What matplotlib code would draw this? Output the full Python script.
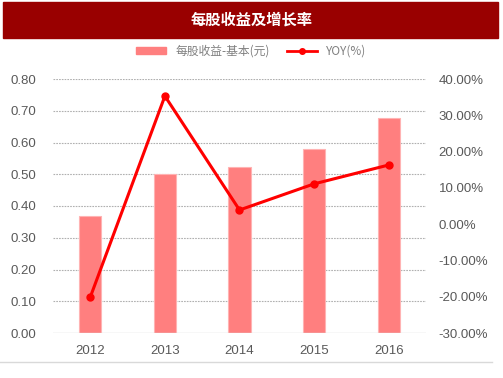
import matplotlib.pyplot as plt
from matplotlib.lines import Line2D
from matplotlib.patches import Rectangle, Patch

plt.rcParams['font.family'] = ['Liberation Sans', 'Noto Sans CJK SC', 'DejaVu Sans']

years = ["2012", "2013", "2014", "2015", "2016"]
eps = [0.37, 0.50, 0.523, 0.58, 0.677]
yoy = [-20.1, 35.3, 3.9, 11.1, 16.3]

left_ticks = [0.0, 0.1, 0.2, 0.3, 0.4, 0.5, 0.6, 0.7, 0.8]
right_ticks = [-30, -20, -10, 0, 10, 20, 30, 40]

cjk = ['Noto Sans CJK SC', 'DejaVu Sans']

fig = plt.figure(figsize=(5.03, 3.78), dpi=100)

# title bar
fig.patches.append(Rectangle((3 / 503, 1 - 38 / 378), 495 / 503, 36 / 378,
                             transform=fig.transFigure, color="#990000", zorder=0))
fig.text(0.5, 1 - 20 / 378, "每股收益及增长率", color="white", fontsize=11,
         fontweight="bold", ha="center", va="center", family=cjk)
# bottom frame line
fig.add_artist(Line2D([0, 492 / 503], [1 - 362 / 378] * 2, color="#d9d9d9", lw=1))

ax = fig.add_axes([53 / 503, 1 - 333 / 378, 373 / 503, 254 / 378])
x = range(len(years))
ax.bar(x, eps, width=0.3, color="#ff7f7f", edgecolor="#ffb3b3", lw=0.8, zorder=2)
ax.set_xlim(-0.5, 4.5)
ax.set_ylim(0, 0.8)
ax.set_yticks(left_ticks)
ax.set_yticklabels([f"{v:.2f}" for v in left_ticks])
ax.set_xticks(list(x))
ax.set_xticklabels(years)
for v in left_ticks[1:]:
    ax.axhline(v, color="#b0b0b0", lw=0.8, ls=(0, (1.5, 1)), zorder=1)
ax.axhline(0, color="#d9d9d9", lw=1, zorder=3)
for s in ax.spines.values():
    s.set_visible(False)
ax.tick_params(length=0, colors="#595959", labelsize=9.5)
ax.tick_params(axis="y", pad=12)
ax.tick_params(axis="x", pad=9)

ax2 = ax.twinx()
ax2.plot(list(x), yoy, color="#ff0000", lw=2.2, marker="o", ms=5, zorder=4)
ax2.set_ylim(-30, 40)
ax2.set_yticks(right_ticks)
ax2.set_yticklabels([f"{v:.2f}%" for v in right_ticks])
for s in ax2.spines.values():
    s.set_visible(False)
ax2.tick_params(length=0, colors="#595959", labelsize=9.5, pad=9)

handles = [Patch(color="#ff7f7f"),
           Line2D([], [], color="#ff0000", lw=2, marker="o", ms=4)]
fig.legend(handles, ["每股收益-基本(元)", "YOY(%)"], loc="center",
           bbox_to_anchor=(0.5, 1 - 51 / 378), ncol=2, frameon=False,
           prop={"family": cjk, "size": 8.5}, labelcolor="#808080",
           handlelength=2.5, handleheight=0.5, columnspacing=1.5)

fig.savefig("out.png", dpi=100)
